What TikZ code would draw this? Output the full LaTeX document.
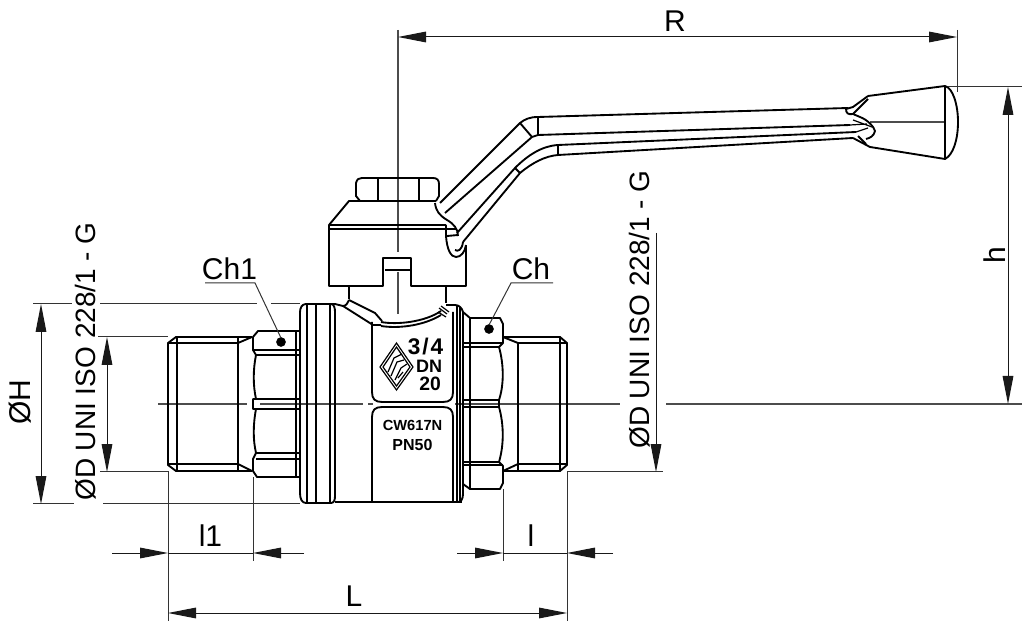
\documentclass[tikz,border=0pt]{standalone}
\usepackage{fontspec}
\setmainfont{Liberation Sans}
\usetikzlibrary{arrows.meta}
\tikzset{
	part/.style={line width=1.4pt,line join=round},
	fine/.style={line width=0.9pt},
	axis/.style={line width=0.8pt,black!70},
	extline/.style={line width=0.75pt,black!80},
	dimline/.style={line width=0.75pt,black!90,>={Triangle[length=21pt,width=8pt]}},
	dimtext/.style={anchor=base,font=\fontsize{22.5}{26}\selectfont},
	isotext/.style={anchor=base,rotate=90,font=\fontsize{21}{26}\selectfont},
	plate/.style={anchor=base,font=\bfseries\fontsize{#1}{#1}\selectfont}
}
\begin{document}
\begin{tikzpicture}[x=0.75pt,y=-0.75pt]
	\useasboundingbox (0,0) rectangle (1024,623);

	%axes
	\draw[axis] (398,30)--(398,252) (398,272)--(398,314);		%stem axis
	\draw[axis,line width=1pt] (158,404)--(247,404);			%left thread
	\draw[axis] (260,404)--(363,404);							%left body
	\draw[axis] (368,404)--(373,404);
	\draw[axis] (455,404)--(620,404);							%right body
	\draw[axis] (666,404)--(1022,404);							%h datum
	\draw[axis] (870,122)--(945,122);							%grip

	%nut
	\draw[part] (360,201)--(356,196)--(356,183)..controls (357,179) and (359,178) .. (362,178)--(433,178)..controls (437,178) and (439,180) .. (439,184)--(439,196)--(436,201);
	\draw[part] (378,178)--(378,201) (419,178)--(419,201);

	%cap
	\draw[part] (446,225)--(329,225)--(349,201)--(436,201);
	\draw[part] (456,229)--(329,229);
	\draw[part] (329,225)--(329,286)--(383,286)--(383,258)--(411,258)--(411,286)--(466,286)--(466,245);
	\draw[part] (385,270)--(410,270);
	\draw[part] (435,203)..controls (436,211) and (439,215) .. (447,220)..controls (454,224) and (458,229) .. (458,236);
	\draw[part] (446,225)--(446,236)..controls (447,250) and (451,257) .. (456,257)..controls (461,257) and (465,252) .. (466,245);
	\draw[part] (447,236)--(458,235);
	\draw[part] (455,250)..controls (458,252) and (462,250) .. (463,242);

	%stem and shoulder
	\draw[part] (349,286)--(349,299);
	\draw[part] (446,286)--(446,303);
	\draw[part] (349,300)--(375,313)--(382,321);
	\draw[part] (343,306)..controls (346,306) and (348,303) .. (349,300);
	\draw[part] (343,306)--(373,325)--(381,325);
	\draw[part] (381,322)..controls (397,325) and (425,322) .. (441,311);
	\draw[part] (381,326)..controls (400,329) and (425,325) .. (441,315);
	\draw[fine] (439,308)--(447,314) (441,306)--(449,312) (438,312)--(446,317);

	%body, flange left
	\draw[part] (335,304)--(306,304)..controls (302,304) and (300,308) .. (300,312)--(300,493)..controls (300,499) and (302,503) .. (306,503)--(331,503)..controls (334,503) and (335,500) .. (335,496)--(335,312)..controls (335,308) and (334,304) .. (331,304);
	\draw[part] (316,304)--(316,503) (330,304)--(330,503);
	\draw[part] (307,304)--(307,503);
	\draw[part] (335,304)--(343,306);
	\draw[part] (335,502)--(462,502);

	%upper plate
	\draw[part] (372,322)--(372,392)..controls (372,399) and (375,402) .. (382,402)--(443,402)..controls (450,402) and (453,399) .. (453,392)--(453,312);
	%lower plate
	\draw[part] (372,502)--(372,417)..controls (372,410) and (375,407) .. (382,407)--(443,407)..controls (450,407) and (453,410) .. (453,417)--(453,502);

	%body, flange right
	\draw[part] (446,305)--(455,305)..controls (459,305) and (462,308) .. (463,312);
	\draw[fine] (457,306)--(457,502) (460,307)--(460,502);
	\draw[part] (463,312)--(463,494)..controls (463,499) and (461,502) .. (458,502);

	%left hex
	\draw[part] (300,331)--(258,331)--(253,337)--(253,350)--(256,355)..controls (253,370) and (253,385) .. (256,399)--(253,399)--(253,409)--(256,409)..controls (253,425) and (253,440) .. (256,453)--(253,459)--(253,471)--(257,477)--(300,477);
	\draw[part] (253,350)--(300,350) (256,355)--(300,355);
	\draw[part] (256,399)--(300,399) (256,409)--(300,409);
	\draw[part] (256,453)--(300,453) (256,459)--(300,459);
	\draw[part] (296,331)--(296,477);
	\draw[fill=black] (281,342) circle (4.5);

	%right hex
	\draw[part] (463,312)--(470,318)--(500,318)--(503,324)--(503,343)--(499,347)..controls (504,365) and (504,385) .. (499,400)--(499,407)..controls (504,425) and (504,445) .. (499,462)--(503,466)--(503,483)--(500,489)--(470,489)--(463,484);
	\draw[part] (470,318)--(470,489);
	\draw[part] (463,343)--(503,343) (463,347)--(499,347);
	\draw[part] (463,400)--(499,400) (463,407)--(499,407);
	\draw[part] (463,462)--(499,462) (463,465)--(503,465);
	\draw[fill=black] (489,329) circle (4.5);

	%left thread
	\draw[part] (252,337)--(176,337)--(168,343)--(168,465)--(176,471)--(252,471);
	\draw[part] (168,343)--(238,343) (168,464)--(238,464);
	\draw[part] (177,337)--(177,471) (238,337)--(238,471);
	\draw[part] (238,343)--(252,337) (238,464)--(252,471);

	%right thread
	\draw[part] (503,337)--(560,337)--(567,343)--(567,465)--(560,471)--(503,471);
	\draw[part] (503,337)--(518,343)--(567,343);
	\draw[part] (503,471)--(518,464)--(567,464);
	\draw[part] (518,343)--(518,471) (560,337)--(560,471);

	%handle, upper strap
	\draw[part] (440,203)--(520,123)..controls (525,119) and (530,117) .. (538,117)--(848,108);
	\draw[part] (445,213)--(532,137)--(538,135)--(850,125);
	\draw[part] (520,123)--(532,137) (538,117)--(538,135);
	%handle, lower strap
	\draw[part] (457,233)--(515,168)..controls (528,155) and (542,146) .. (558,145)--(856,132);
	\draw[part] (463,242)--(520,173)..controls (532,163) and (545,156) .. (558,155)--(853,138);
	\draw[part] (515,168)--(520,173) (558,145)--(558,155);

	%grip
	\draw[part] (868,96)--(945,86)..controls (953,88) and (958,105) .. (958,122)..controls (958,140) and (953,155) .. (945,159)--(870,147)--(853,138);
	\draw[part] (945,86)--(945,159);
	\draw[part] (868,96)--(853,107)--(846,109)..controls (846,113) and (848,115) .. (853,114)--(860,117)..controls (868,120) and (874,127) .. (875,131)..controls (874,136) and (870,138) .. (866,139);
	\draw[part] (853,114)--(868,99);
	\draw[part] (858,136)--(866,144);
	\draw[fine] (850,125)--(867,124) (856,132)--(868,128) (853,120)--(872,127);

	%marking
	\draw[fine] (396.5,343)--(413,367)--(396.5,390)--(380,367)--cycle;
	\draw[fine] (396.5,347)--(410,367)--(396.5,386)--(383,367)--cycle;
	\draw[fine] (388,372)--(394,358)--(402,354) (391,376)--(397,362)--(404,360);
	\draw[fine] (395,380)--(401,368)--(407,364) (398,378)--(403,372);
	\node[plate=17] (size) at (425.5,355) {3\kern1.5pt/\kern1.5pt4};
	\node[plate=13.5] (dn) at (429,373) {DN};
	\node[plate=14.5] (nominal) at (430,391) {20};
	\node[plate=11] (alloy) at (412.5,431) {CW617N};
	\node[plate=12] (pressure) at (412.5,450) {PN50};

	%coordinates of the dimensions
	\coordinate (Rl) at (398,37);
	\coordinate (Rr) at (957,37);
	\coordinate (ht) at (1008,87);
	\coordinate (hb) at (1008,404);
	\coordinate (Ht) at (41,304);
	\coordinate (Hb) at (41,504);
	\coordinate (Dt) at (107,337);
	\coordinate (Db) at (107,472);
	\coordinate (De) at (656,233);
	\coordinate (Df) at (656,472);
	\coordinate (Ll) at (168,613);
	\coordinate (Lr) at (567,613);
	\coordinate (m1) at (168,553);
	\coordinate (m2) at (253,553);
	\coordinate (m3) at (503,553);
	\coordinate (m4) at (567,553);
	\coordinate (m0) at (112,553);
	\coordinate (m5) at (304,553);
	\coordinate (m6) at (457,553);
	\coordinate (m7) at (613,553);

	%extension lines
	\draw[extline] (957,30)--(957,92);
	\draw[extline] (948,87)--(1022,87);
	\draw[extline] (33,304)--(72,304) (100,304)--(257,304) (271,304)--(300,304);
	\draw[extline] (33,503)--(74,503) (103,503)--(300,503);
	\draw[extline] (98,337)--(168,337) (100,471)--(168,471);
	\draw[extline] (567,471)--(663,471);
	\draw[extline] (168,471)--(168,621) (567,471)--(567,621);
	\draw[extline] (253,477)--(253,561) (503,489)--(503,561);

	%dimension lines
	\draw[dimline,<->] (Rl)--(Rr);
	\draw[dimline,<->] (ht)--(hb);
	\draw[dimline,<->] (Ht)--(Hb);
	\draw[dimline,<->] (Dt)--(Db);
	\draw[dimline,->] (De)--(Df);
	\draw[dimline,<->] (Ll)--(Lr);
	\draw[dimline,->] (m0)--(m1);
	\draw[dimline] (m1)--(m2);
	\draw[dimline,->] (m5)--(m2);
	\draw[dimline,->] (m6)--(m3);
	\draw[dimline] (m3)--(m4);
	\draw[dimline,->] (m7)--(m4);

	%leaders
	\coordinate (ch1a) at (205,283);
	\coordinate (ch1b) at (255,283);
	\coordinate (cha) at (553,283);
	\coordinate (chb) at (511,283);
	\draw[extline] (ch1a)--(ch1b)--(281,338);
	\draw[extline] (cha)--(chb)--(489,325);

	%labels
	\node[dimtext] (labelR) at (675,32) {R};
	\node[dimtext] (labelCh1) at (229.5,280) {Ch1};
	\node[dimtext] (labelCh) at (531,280) {Ch};
	\node[dimtext] (labelL) at (354,606) {L};
	\node[dimtext] (labelLa) at (210.5,546) {l1};
	\node[dimtext] (labelLb) at (531,546) {l};
	\node[dimtext,rotate=90] (labelh) at (1005,255) {h};
	\node[dimtext,rotate=90] (labelH) at (30,402) {ØH};
	\node[isotext] (isoleft) at (95,361.5) {ØD UNI ISO 228/1 - G};
	\node[isotext] (isoright) at (649,309.5) {ØD UNI ISO 228/1 - G};
\end{tikzpicture}
\end{document}
